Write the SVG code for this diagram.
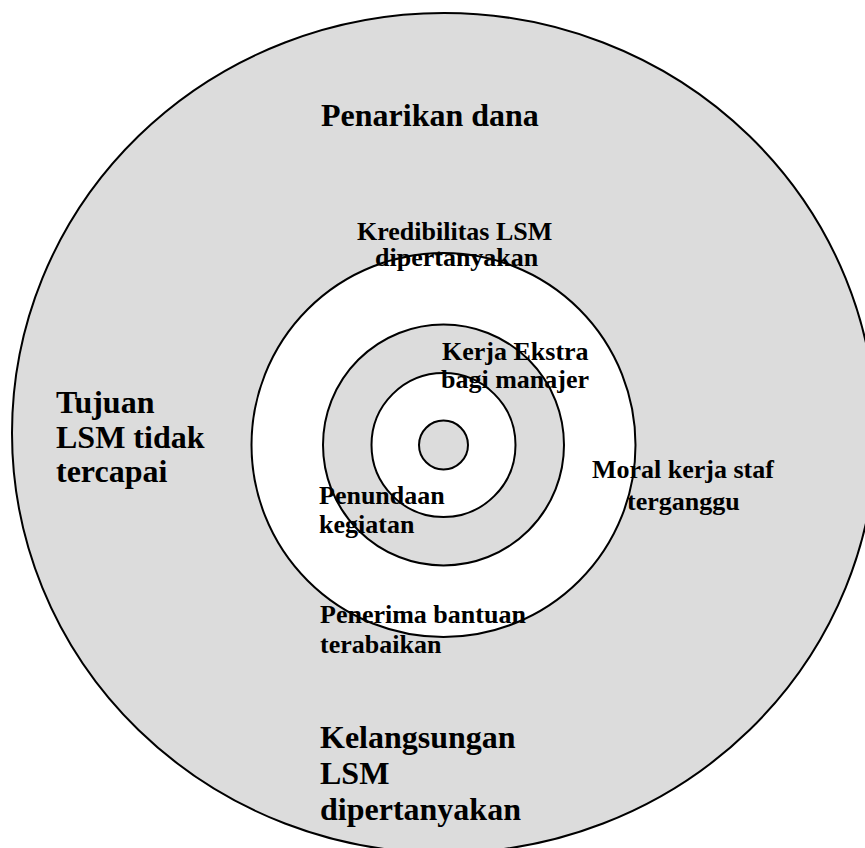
<svg xmlns="http://www.w3.org/2000/svg" width="865" height="848" viewBox="0 0 865 848">
<style>
.ring{stroke:#000;stroke-width:2}
.g{fill:#dcdcdc}
.w{fill:#fff}
text{font-family:"Liberation Serif","Times New Roman",serif;font-weight:bold;fill:#000}
.big{font-size:32px}
.mid{font-size:26px}
</style>
<rect width="865" height="848" fill="#fff"/>
<g id="rings">
<ellipse id="outer" class="ring g" cx="444" cy="433" rx="432" ry="420"/>
<circle id="ring2" class="ring w" cx="443.5" cy="445" r="192"/>
<circle id="ring3" class="ring g" cx="443.5" cy="445" r="120.5"/>
<circle id="ring4" class="ring w" cx="443.5" cy="445" r="72"/>
<circle id="core" class="ring g" cx="443.5" cy="445" r="24.5"/>
</g>
<g id="connectors"></g>
<g id="n-penarikan"><text class="big" x="321" y="126">Penarikan dana</text></g>
<g id="n-tujuan"><text class="big" x="56" y="413">Tujuan</text><text class="big" x="56" y="448">LSM tidak</text><text class="big" x="56" y="482">tercapai</text></g>
<g id="n-kelangsungan"><text class="big" x="320" y="748">Kelangsungan</text><text class="big" x="320" y="784">LSM</text><text class="big" x="320" y="820">dipertanyakan</text></g>
<g id="n-kredibilitas"><text class="mid" x="357" y="240">Kredibilitas LSM</text><text class="mid" x="375" y="266">dipertanyakan</text></g>
<g id="n-kerja"><text class="mid" x="442" y="360">Kerja Ekstra</text><text class="mid" x="441" y="388">bagi manajer</text></g>
<g id="n-moral"><text class="mid" x="592" y="478">Moral kerja staf</text><text class="mid" x="627" y="510">terganggu</text></g>
<g id="n-penundaan"><text class="mid" x="319" y="504">Penundaan</text><text class="mid" x="319" y="533">kegiatan</text></g>
<g id="n-penerima"><text class="mid" x="320" y="623">Penerima bantuan</text><text class="mid" x="320" y="653">terabaikan</text></g>
</svg>
